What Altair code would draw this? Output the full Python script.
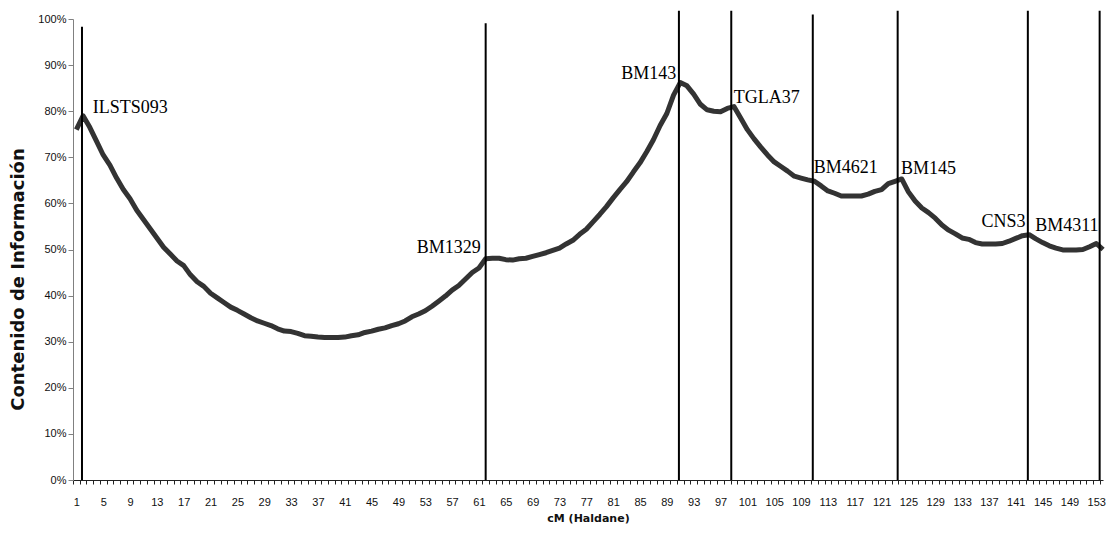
import altair as alt
import pandas as pd

# ---- data ----
categories = list(range(1, 155))
info_pct = [
    76.0, 79.0, 76.5, 73.5, 70.5, 68.3, 65.5, 63.0, 61.0, 58.5,
    56.5, 54.5, 52.5, 50.5, 49.0, 47.5, 46.5, 44.5, 43.0, 42.0,
    40.5, 39.5, 38.5, 37.5, 36.8, 36.0, 35.2, 34.5, 34.0, 33.5,
    32.8, 32.3, 32.2, 31.8, 31.3, 31.2, 31.0, 30.9, 30.9, 30.9,
    31.0, 31.3, 31.5, 32.0, 32.3, 32.7, 33.0, 33.5, 33.9, 34.5,
    35.4, 36.0, 36.7, 37.7, 38.8, 39.9, 41.2, 42.2, 43.6, 45.0,
    46.0, 48.0, 48.1, 48.1, 47.8, 47.7, 48.0, 48.1, 48.5, 48.9,
    49.3, 49.8, 50.3, 51.2, 52.0, 53.3, 54.4, 56.0, 57.6, 59.3,
    61.2, 63.0, 64.7, 66.8, 68.8, 71.2, 73.8, 76.9, 79.5, 83.5,
    86.2, 85.5, 83.7, 81.5, 80.3, 80.0, 79.9, 80.6, 81.0, 78.5,
    76.0, 74.0, 72.2, 70.5, 69.0, 68.0, 67.0, 65.9, 65.5, 65.1,
    64.8, 63.8, 62.7, 62.2, 61.6, 61.6, 61.6, 61.6, 62.0, 62.6,
    63.0, 64.3, 64.8, 65.3, 62.5, 60.5, 59.0, 58.0, 56.8, 55.3,
    54.2, 53.4, 52.5, 52.2, 51.5, 51.2, 51.2, 51.2, 51.3, 51.8,
    52.4, 53.0, 53.2, 52.3, 51.5, 50.8, 50.3, 49.9, 49.9, 49.9,
    50.0, 50.6, 51.3, 50.0,
]

marker_names = ["ILSTS093", "BM1329", "BM143", "TGLA37", "BM4621", "BM145", "CNS3", "BM4311"]
marker_pos = [1.84, 62.0, 90.8, 98.6, 110.75, 123.4, 142.8, 153.5]
marker_top = [98.3, 99.1, 101.8, 101.8, 101.0, 101.8, 101.8, 101.8]

label_x = [3.43, 61.27, 90.4, 98.97, 110.9, 123.9, 142.45, 143.9]
label_y = [80.6, 50.3, 88.1, 82.8, 67.6, 67.4, 56.0, 55.0]
label_side = ["left", "right", "right", "left", "left", "left", "right", "left"]

x_tick_labels = list(range(1, 154, 4))
y_tick_values = [v / 100 for v in range(0, 101, 10)]

# ---- tables ----
line_df = pd.DataFrame({"cM": categories, "info": [v / 100 for v in info_pct]})
rule_df = pd.DataFrame({"pos": marker_pos, "bottom": [0.0] * len(marker_pos),
                        "top": [t / 100 for t in marker_top]})
text_df = pd.DataFrame({"name": marker_names, "x": label_x,
                        "y": [v / 100 for v in label_y], "side": label_side})

PLOT_W = 1030
x_scale = alt.Scale(domain=[0.5, 154], nice=False, zero=False)
y_scale = alt.Scale(domain=[0, 1], nice=False)

band = PLOT_W / 153.5
label_list = ",".join(str(v) for v in x_tick_labels)
x_axis = alt.Axis(
    values=categories,
    tickCount=1000,
    tickOffset=-band / 2,
    labelOffset=band / 2,
    labelExpr=f"indexof([{label_list}], datum.value) >= 0 ? datum.value : ''",
    labelOverlap=False,
    labelFlush=False,
    grid=False,
    tickSize=4,
    tickColor="#222222",
    domainColor="#222222",
    labelFont="Liberation Sans",
    labelFontSize=11,
    labelColor="#111111",
    labelPadding=12,
    title="cM (Haldane)",
    titleFont="DejaVu Sans",
    titleFontWeight="bold",
    titleFontSize=11,
    titleColor="#111111",
    titlePadding=5,
)

y_axis = alt.Axis(
    values=y_tick_values,
    format=".0%",
    grid=False,
    tickSize=5,
    tickColor="#808080",
    domainColor="#808080",
    labelFont="Liberation Sans",
    labelFontSize=11,
    labelColor="#111111",
    labelPadding=2,
    title="Contenido de Información",
    titleFont="DejaVu Sans",
    titleFontWeight="bold",
    titleFontSize=18,
    titleColor="#111111",
    titlePadding=10,
    titleY=260,
)

line = alt.Chart(line_df).mark_line(color="#333333", strokeWidth=5, strokeJoin="round").encode(
    x=alt.X("cM:Q", scale=x_scale, axis=x_axis),
    y=alt.Y("info:Q", scale=y_scale, axis=y_axis),
)

rules = alt.Chart(rule_df).mark_rule(color="black", strokeWidth=2).encode(
    x=alt.X("pos:Q", scale=x_scale),
    y=alt.Y("bottom:Q", scale=y_scale),
    y2="top:Q",
)

text_style = dict(font="Liberation Serif", fontSize=18, color="black", baseline="middle")
text_left = alt.Chart(text_df).transform_filter("datum.side == 'left'").mark_text(
    align="left", **text_style).encode(
    x=alt.X("x:Q", scale=x_scale), y=alt.Y("y:Q", scale=y_scale), text="name:N")
text_right = alt.Chart(text_df).transform_filter("datum.side == 'right'").mark_text(
    align="right", **text_style).encode(
    x=alt.X("x:Q", scale=x_scale), y=alt.Y("y:Q", scale=y_scale), text="name:N")

chart = alt.layer(line, rules, text_left, text_right).properties(
    width=PLOT_W,
    height=461,
    autosize=alt.AutoSizeParams(type="none"),
    padding={"left": 65, "top": 11, "right": 3, "bottom": 45},
).configure_view(stroke=None)

chart.save("out.html", embed_options={"renderer": "svg", "actions": False})
